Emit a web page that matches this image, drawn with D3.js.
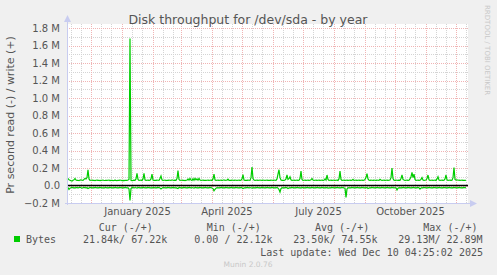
<!DOCTYPE html>
<html>
<head>
  <meta charset="utf-8" />
  <script src="https://d3js.org/d3.v7.min.js"></script>
  <style>
    body { margin: 0; padding: 0; background-color: #f0f0f0; }
    svg { display: block; }
    .sans { font-family: "DejaVu Sans", sans-serif; fill: #555; }
    .mono { font-family: "DejaVu Sans Mono", monospace; fill: #555; font-size: 10px; }
  </style>
</head>
<body>
  <svg id="chart" width="497" height="275"></svg>
  <script>
    // one value per day, starting 2024-11-07 (bytes per second, in k)
    const startDay = Date.UTC(2024, 10, 7);
    const endDay = Date.UTC(2025, 11, 12);

    const writeK = [
      70, 80, 65, 60, 55, 50, 60, 65, 80, 62, 58, 60, 55, 62, 65, 60, 58, 70, 80, 75,
      90, 180, 75, 58, 60, 62, 58, 60, 57, 60, 62, 58, 60, 56, 58, 60, 62, 57, 58, 60,
      58, 60, 62, 56, 58, 60, 57, 59, 62, 58, 56, 60, 58, 62, 60, 57, 59, 55, 58, 60,
      58, 62, 70, 1680, 60, 55, 58, 62, 60, 75, 140, 70, 58, 60, 62, 58, 75, 140, 65, 58,
      60, 62, 58, 60, 75, 130, 62, 58, 60, 58, 62, 60, 58, 80, 110, 65, 58, 60, 62, 57,
      60, 58, 62, 60, 58, 65, 60, 58, 62, 60, 80, 170, 70, 58, 60, 62, 58, 60, 57, 60,
      62, 75, 60, 80, 62, 58, 78, 60, 82, 65, 75, 60, 80, 62, 58, 60, 62, 58, 60, 58,
      60, 62, 58, 60, 62, 58, 75, 130, 65, 58, 60, 62, 58, 60, 62, 58, 60, 65, 58, 60,
      62, 72, 58, 60, 58, 62, 60, 58, 62, 60, 58, 60, 62, 58, 60, 75, 125, 62, 58, 60,
      58, 62, 60, 58, 90, 210, 80, 62, 58, 60, 62, 58, 60, 62, 60, 58, 62, 60, 58, 60,
      62, 58, 60, 58, 62, 60, 58, 62, 60, 58, 75, 130, 180, 90, 62, 58, 60, 58, 62, 75,
      120, 70, 78, 100, 65, 58, 60, 62, 58, 60, 62, 58, 60, 80, 165, 70, 58, 60, 62, 58,
      60, 62, 58, 60, 65, 80, 62, 58, 60, 62, 58, 60, 62, 58, 60, 62, 58, 60, 75, 62,
      120, 70, 58, 60, 62, 58, 60, 62, 58, 60, 62, 58, 75, 165, 70, 58, 60, 62, 58, 60,
      62, 58, 60, 62, 58, 60, 70, 58, 60, 62, 58, 60, 62, 58, 60, 62, 58, 60, 70, 90,
      135, 75, 60, 58, 62, 60, 58, 62, 60, 58, 62, 60, 58, 70, 62, 58, 60, 62, 58, 60,
      62, 58, 60, 62, 90, 200, 80, 60, 58, 62, 60, 58, 62, 60, 80, 120, 70, 62, 58, 60,
      62, 58, 60, 75, 100, 150, 90, 130, 70, 58, 60, 62, 58, 60, 70, 90, 62, 58, 60, 62,
      80, 120, 65, 58, 60, 62, 58, 60, 62, 58, 75, 100, 62, 58, 60, 62, 58, 60, 75, 120,
      65, 58, 60, 62, 58, 60, 90, 205, 70, 62, 65, 60, 62, 58, 60, 62, 58, 60, 58, 60
    ];

    const readK = [
      -30, -25, -45, -30, -25, -20, -28, -25, -30, -22, -25, -28, -24, -20, -25, -30, -26, -22, -25, -28,
      -25, -35, -28, -22, -25, -28, -24, -26, -22, -25, -28, -24, -26, -22, -25, -28, -24, -30, -22, -25,
      -28, -24, -26, -22, -25, -28, -24, -26, -22, -25, -28, -24, -26, -22, -25, -28, -24, -26, -22, -25,
      -28, -24, -40, -170, -35, -22, -25, -28, -24, -26, -30, -22, -25, -28, -24, -26, -22, -25, -28, -24,
      -26, -22, -25, -28, -24, -30, -22, -25, -28, -24, -26, -22, -25, -28, -40, -30, -22, -25, -28, -24,
      -26, -22, -25, -28, -24, -26, -22, -25, -28, -24, -30, -35, -22, -25, -28, -24, -26, -22, -25, -28,
      -24, -26, -22, -25, -28, -24, -26, -30, -22, -25, -28, -24, -26, -22, -25, -28, -24, -26, -22, -25,
      -28, -24, -26, -22, -25, -28, -35, -60, -45, -30, -25, -28, -24, -26, -22, -25, -28, -24, -26, -22,
      -25, -28, -24, -26, -22, -25, -28, -24, -26, -22, -25, -28, -24, -26, -22, -25, -35, -28, -24, -26,
      -22, -25, -28, -24, -26, -30, -25, -28, -24, -26, -22, -25, -28, -24, -26, -22, -25, -28, -24, -26,
      -22, -25, -28, -24, -26, -22, -25, -28, -24, -26, -22, -30, -45, -75, -35, -25, -28, -24, -26, -22,
      -25, -35, -28, -24, -26, -22, -25, -28, -24, -26, -22, -25, -28, -24, -30, -22, -25, -28, -24, -26,
      -22, -25, -28, -24, -26, -22, -25, -28, -24, -26, -22, -25, -28, -24, -26, -22, -25, -28, -24, -26,
      -22, -30, -28, -24, -26, -22, -25, -28, -24, -26, -22, -25, -28, -24, -26, -22, -25, -28, -30, -135,
      -40, -25, -28, -24, -26, -22, -25, -28, -24, -26, -22, -25, -28, -24, -26, -22, -25, -28, -24, -26,
      -22, -35, -28, -24, -26, -22, -25, -28, -24, -26, -22, -25, -28, -24, -26, -22, -25, -28, -24, -26,
      -22, -25, -28, -24, -26, -22, -25, -28, -24, -26, -50, -30, -25, -28, -24, -26, -22, -25, -28, -24,
      -26, -22, -25, -28, -24, -26, -22, -25, -28, -24, -26, -22, -25, -40, -28, -24, -26, -22, -25, -28,
      -24, -26, -22, -25, -28, -24, -26, -22, -25, -28, -24, -26, -22, -25, -28, -24, -26, -22, -25, -28,
      -24, -26, -22, -25, -28, -24, -26, -22, -25, -28, -24, -26, -22, -25, -28, -24, -26, -22, -25, -28
    ];

    const yTicks = [-200000, 0, 200000, 400000, 600000, 800000, 1000000, 1200000, 1400000, 1600000, 1800000];
    const xLabels = ["January 2025", "April 2025", "July 2025", "October 2025"];
    const xLabelMonths = [Date.UTC(2025, 0, 1), Date.UTC(2025, 3, 1), Date.UTC(2025, 6, 1), Date.UTC(2025, 9, 1)];

    const legendHeads = ["Cur (-/+)", "Min (-/+)", "Avg (-/+)", "Max (-/+)"];
    const legendVals = ["21.84k/ 67.22k", "0.00 / 22.12k", "23.50k/ 74.55k", "29.13M/ 22.89M"];

    const svg = d3.select("#chart");
    const pLeft = 67, pRight = 468, pTop = 24, pBottom = 203;

    const x = d3.scaleUtc().domain([startDay, endDay]).range([pLeft, pLeft + 400]);
    const y = d3.scaleLinear().domain([-200000, 1800000]).range([pBottom, 28]);

    // plot background
    svg.append("rect").attr("x", pLeft).attr("y", pTop).attr("width", pRight - pLeft).attr("height", pBottom - pTop).attr("fill", "#fff");

    // grid
    const months = d3.utcMonth.range(d3.utcMonth.floor(new Date(startDay)), endDay);
    const minor = [];
    months.forEach(m => { minor.push(d3.utcDay.offset(m, 10), d3.utcDay.offset(m, 20)); });
    const inside = d => x(d) > pLeft && x(d) < pRight;

    const minorCol = "#d4d4d4", majorCol = "#f0b4b4";
    const grid = svg.append("g").attr("shape-rendering", "crispEdges");
    const yMinor = d3.range(-200000, 1800001, 100000).filter(v => yTicks.indexOf(v) < 0);
    grid.selectAll(".ym").data(yMinor).enter().append("line")
      .attr("x1", pLeft).attr("x2", pRight).attr("y1", d => Math.round(y(d)) + 0.5).attr("y2", d => Math.round(y(d)) + 0.5)
      .attr("stroke", minorCol).attr("stroke-dasharray", "1,1");
    grid.selectAll(".xm").data(minor.filter(inside)).enter().append("line")
      .attr("x1", d => Math.round(x(d)) + 0.5).attr("x2", d => Math.round(x(d)) + 0.5).attr("y1", pTop).attr("y2", pBottom)
      .attr("stroke", minorCol).attr("stroke-dasharray", "1,1");
    grid.selectAll(".yM").data(yTicks).enter().append("line")
      .attr("x1", pLeft).attr("x2", pRight).attr("y1", d => Math.round(y(d)) + 0.5).attr("y2", d => Math.round(y(d)) + 0.5)
      .attr("stroke", majorCol).attr("stroke-dasharray", "1,1");
    grid.selectAll(".xM").data(months.filter(inside)).enter().append("line")
      .attr("x1", d => Math.round(x(d)) + 0.5).attr("x2", d => Math.round(x(d)) + 0.5).attr("y1", pTop).attr("y2", pBottom)
      .attr("stroke", majorCol).attr("stroke-dasharray", "1,1");

    // series
    const day = i => d3.utcDay.offset(new Date(startDay), i);
    const line = d3.line().x((d, i) => x(day(i))).y(d => y(d * 1000));
    svg.append("path").datum(writeK).attr("d", line).attr("fill", "none").attr("stroke", "#00cc00").attr("stroke-width", 1.2);
    svg.append("path").datum(readK).attr("d", line).attr("fill", "none").attr("stroke", "#00cc00").attr("stroke-width", 1.2);

    // zero line
    svg.append("line").attr("x1", pLeft).attr("x2", pRight).attr("y1", y(0)).attr("y2", y(0))
      .attr("stroke", "#000").attr("stroke-width", 1.3);

    // axes with arrows
    const axisCol = "#c8ccf0";
    svg.append("line").attr("x1", pLeft + 0.5).attr("x2", pLeft + 0.5).attr("y1", pBottom + 2).attr("y2", 20).attr("stroke", axisCol);
    svg.append("path").attr("d", `M${pLeft - 3},22 L${pLeft + 0.5},15 L${pLeft + 4},22 Z`).attr("fill", axisCol);
    svg.append("line").attr("x1", pLeft - 2).attr("x2", 472).attr("y1", pBottom + 0.5).attr("y2", pBottom + 0.5).attr("stroke", axisCol);
    svg.append("path").attr("d", `M470,${pBottom - 3} L477,${pBottom + 0.5} L470,${pBottom + 4} Z`).attr("fill", axisCol);

    // y labels
    const fmtY = v => v === 0 ? "0.0" : d3.format(".1f")(v / 1e6) + " M";
    svg.append("g").selectAll("text").data(yTicks).enter().append("text")
      .attr("class", "sans").attr("font-size", 10)
      .attr("x", 60).attr("y", d => y(d)).attr("dy", "0.36em")
      .attr("text-anchor", "end").text(fmtY);

    // x labels (centred in month)
    svg.append("g").selectAll("text").data(xLabelMonths).enter().append("text")
      .attr("class", "sans").attr("font-size", 10)
      .attr("x", d => (x(d) + x(d3.utcMonth.offset(new Date(d), 1))) / 2).attr("y", 215)
      .attr("text-anchor", "middle").text((d, i) => xLabels[i]);

    // title and side texts
    svg.append("text").attr("class", "sans").attr("font-size", 12.5).attr("x", 248).attr("y", 23.5)
      .attr("text-anchor", "middle").text("Disk throughput for /dev/sda - by year");
    svg.append("text").attr("class", "sans").attr("font-size", 11).attr("text-anchor", "middle")
      .attr("transform", "translate(14,115) rotate(-90)").text("Pr second read (-) / write (+)");
    svg.append("text").attr("font-family", "DejaVu Sans, sans-serif").attr("font-size", 7).attr("fill", "#c8c8c8")
      .attr("transform", "translate(485,5) rotate(90)").text("RRDTOOL / TOBI OETIKER");

    // legend
    svg.append("rect").attr("x", 14).attr("y", 236).attr("width", 6).attr("height", 6).attr("fill", "#00cc00");
    svg.append("text").attr("class", "mono").attr("x", 26).attr("y", 243).text("Bytes");
    const headX = [98.7, 206.7, 315, 423.3];
    const valX = [83, 194.3, 293.3, 398.3];
    legendHeads.forEach((h, i) => {
      svg.append("text").attr("class", "mono").attr("x", headX[i]).attr("y", 230.5).text(h);
      svg.append("text").attr("class", "mono").attr("x", valX[i]).attr("y", 243).text(legendVals[i]);
    });
    svg.append("text").attr("class", "mono").attr("x", 483).attr("y", 255.5).attr("text-anchor", "end")
      .text("Last update: Wed Dec 10 04:25:02 2025");
    svg.append("text").attr("font-family", "DejaVu Sans, sans-serif").attr("font-size", 7.5).attr("fill", "#c8c8c8")
      .attr("x", 248).attr("y", 267).attr("text-anchor", "middle").text("Munin 2.0.76");
  </script>
</body>
</html>
